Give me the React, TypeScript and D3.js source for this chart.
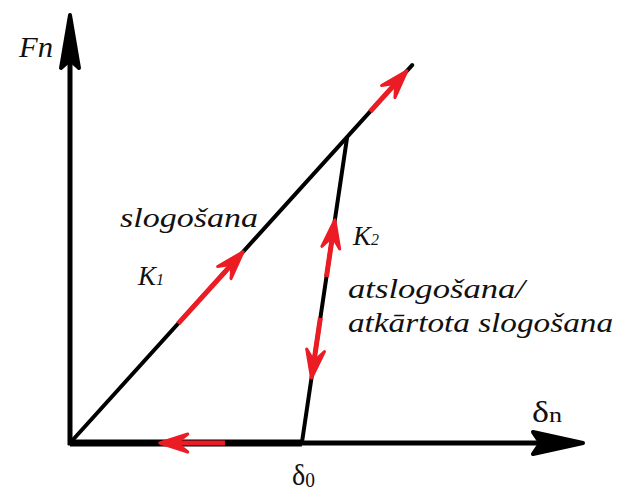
import React from "react";
import * as d3 from "d3";

// Normalised chart coordinates (δ along x, F along y)
const xDomain = [0, 1];
const yDomain = [0, 1];
const loadingLine = [[0, 0], [0.667, 0.883]]; // K1 loading path
const peakPoint = [0.54, 0.713]; // where unloading begins
const residualDelta = 0.452; // δ0
const unloadingLine = [[residualDelta, 0], peakPoint]; // K2 path
const residualLine = [[0, 0], [residualDelta, 0]];

// Red direction arrows: segment, start fraction, tip fraction
const arrowSegments = ["loading", "loading", "unloading", "unloading", "residual"];
const arrowFrom = [0.877, 0.316, 0.544, 0.41, 0.302 / 0.452];
const arrowTo = [0.985, 0.506, 0.731, 0.213, 0.175 / 0.452];

const yAxisLabel = "Fn";
const xAxisLabel = ["δ", "n"];
const residualLabel = ["δ", "0"];
const loadingLabel = "slogošana";
const k1Label = ["K", "1"];
const k2Label = ["K", "2"];
const unloadingLabels = ["atslogošana/", "atkārtota slogošana"];

const W = 622;
const H = 491;
const RED = "#ec1c24";
const FONT = "Liberation Serif";

export default function App() {
  const x = d3.scaleLinear().domain(xDomain).range([70, 583]);
  const y = d3.scaleLinear().domain(yDomain).range([443, 15]);
  const line = d3
    .line<number[]>()
    .x((d) => x(d[0]))
    .y((d) => y(d[1]));

  const segs: Record<string, number[][]> = {
    loading: loadingLine,
    unloading: unloadingLine,
    residual: residualLine,
  };
  const along = (s: number[][], t: number) => [
    s[0][0] + (s[1][0] - s[0][0]) * t,
    s[0][1] + (s[1][1] - s[0][1]) * t,
  ];

  const head = (
    x0: number,
    y0: number,
    x1: number,
    y1: number,
    L: number,
    Wd: number,
    notch: number
  ) => {
    const dx = x1 - x0;
    const dy = y1 - y0;
    const len = Math.hypot(dx, dy);
    const ux = dx / len;
    const uy = dy / len;
    const nx = -uy;
    const ny = ux;
    const pts = [
      [x1, y1],
      [x1 - L * ux + Wd * nx, y1 - L * uy + Wd * ny],
      [x1 - notch * L * ux, y1 - notch * L * uy],
      [x1 - L * ux - Wd * nx, y1 - L * uy - Wd * ny],
    ];
    return {
      points: pts.map((p) => p.join(",")).join(" "),
      shaftEnd: [x1 - notch * L * ux, y1 - notch * L * uy],
    };
  };

  const ox = x(0);
  const oy = y(0);
  const yTip = [x(0), y(1)];
  const xTip = [x(1), y(0)];
  const yHead = head(ox, oy, yTip[0], yTip[1], 53, 9, 0.85);
  const xHead = head(ox, oy, xTip[0], xTip[1], 50, 11, 0.85);

  return (
    <svg
      width={W}
      height={H}
      style={{ position: "absolute", left: 0, top: 0, background: "#fff" }}
    >
      <rect width={W} height={H} fill="#fff" />
      {/* axes */}
      <line x1={ox} y1={oy + 2} x2={ox} y2={yHead.shaftEnd[1]} stroke="#000" strokeWidth={5} />
      <polygon points={yHead.points} fill="#000" stroke="#000" strokeWidth={4} strokeLinejoin="round" />
      <line x1={ox - 2} y1={oy} x2={xHead.shaftEnd[0]} y2={oy} stroke="#000" strokeWidth={5} />
      <polygon points={xHead.points} fill="#000" stroke="#000" strokeWidth={4} strokeLinejoin="round" />

      {/* residual (thicker) */}
      <path d={line(residualLine) || ""} stroke="#000" strokeWidth={7} fill="none" />
      {/* loading line */}
      <path d={line(loadingLine) || ""} stroke="#000" strokeWidth={4} fill="none" strokeLinecap="round" />
      {/* unloading line */}
      <path d={line(unloadingLine) || ""} stroke="#000" strokeWidth={4} fill="none" strokeLinecap="round" />

      {/* red arrows */}
      {arrowSegments.map((sName, i) => {
        const s = segs[sName];
        const a = along(s, arrowFrom[i]);
        const b = along(s, arrowTo[i]);
        const x0 = x(a[0]);
        const y0 = y(a[1]);
        const x1 = x(b[0]);
        const y1 = y(b[1]);
        const h = head(x0, y0, x1, y1, 28, 9, 0.6);
        return (
          <g key={i}>
            <line x1={x0} y1={y0} x2={h.shaftEnd[0]} y2={h.shaftEnd[1]} stroke={RED} strokeWidth={5} />
            <polygon points={h.points} fill={RED} stroke={RED} strokeWidth={3} strokeLinejoin="round" />
          </g>
        );
      })}

      {/* labels */}
      <text x={19} y={57} fontSize={30} fontFamily={FONT} fontStyle="italic" fill="#111" textLength={34} lengthAdjust="spacingAndGlyphs">
        {yAxisLabel}
      </text>
      <text x={120} y={227} fontSize={28} fontFamily={FONT} fontStyle="italic" fill="#111" textLength={138} lengthAdjust="spacingAndGlyphs">
        {loadingLabel}
      </text>
      <text x={138} y={285} fontSize={27} fontFamily={FONT} fontStyle="italic" fill="#111">
        <tspan>{k1Label[0]}</tspan>
        <tspan fontSize={16}>{k1Label[1]}</tspan>
      </text>
      <text x={353} y={245} fontSize={27} fontFamily={FONT} fontStyle="italic" fill="#111">
        <tspan>{k2Label[0]}</tspan>
        <tspan fontSize={16}>{k2Label[1]}</tspan>
      </text>
      <text x={348} y={298} fontSize={28} fontFamily={FONT} fontStyle="italic" fill="#111" textLength={177} lengthAdjust="spacingAndGlyphs">
        {unloadingLabels[0]}
      </text>
      <text x={348} y={332} fontSize={28} fontFamily={FONT} fontStyle="italic" fill="#111" textLength={265} lengthAdjust="spacingAndGlyphs">
        {unloadingLabels[1]}
      </text>
      <text x={532} y={422} fontSize={29} fontFamily={FONT} fill="#111" textLength={30} lengthAdjust="spacingAndGlyphs">
        <tspan>{xAxisLabel[0]}</tspan>
        <tspan fontSize={21}>{xAxisLabel[1]}</tspan>
      </text>
      <text x={292} y={485} fontSize={29} fontFamily={FONT} fill="#111" textLength={23} lengthAdjust="spacingAndGlyphs">
        <tspan>{residualLabel[0]}</tspan>
        <tspan fontSize={20} dy={2}>{residualLabel[1]}</tspan>
      </text>
    </svg>
  );
}
